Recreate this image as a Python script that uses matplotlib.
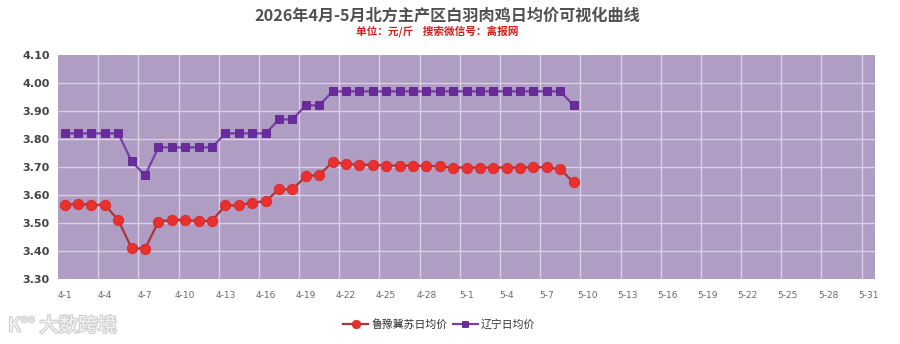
import matplotlib
matplotlib.use("Agg")
import matplotlib.pyplot as plt
import matplotlib.patheffects as pe
from matplotlib.ticker import FixedLocator

plt.rcParams['font.family'] = ['Noto Sans CJK SC', 'DejaVu Sans']

# ---- data ----
dates = [f"4-{d}" for d in range(1, 31)] + [f"5-{d}" for d in range(1, 32)]
tick_labels = ["4-1", "4-4", "4-7", "4-10", "4-13", "4-16", "4-19", "4-22", "4-25",
               "4-28", "5-1", "5-4", "5-7", "5-10", "5-13", "5-16", "5-19", "5-22",
               "5-25", "5-28", "5-31"]
lu_yu_ji_su = [3.565, 3.568, 3.565, 3.565, 3.51, 3.41, 3.408, 3.505, 3.511, 3.511,
               3.507, 3.508, 3.563, 3.563, 3.573, 3.578, 3.62, 3.62, 3.667, 3.672,
               3.717, 3.711, 3.708, 3.708, 3.705, 3.705, 3.705, 3.704, 3.702, 3.698,
               3.698, 3.698, 3.698, 3.698, 3.698, 3.699, 3.699, 3.692, 3.645]
liaoning = [3.82, 3.82, 3.82, 3.82, 3.82, 3.72, 3.67, 3.77, 3.77, 3.77,
            3.77, 3.77, 3.82, 3.82, 3.82, 3.82, 3.87, 3.87, 3.92, 3.92,
            3.97, 3.97, 3.97, 3.97, 3.97, 3.97, 3.97, 3.97, 3.97, 3.97,
            3.97, 3.97, 3.97, 3.97, 3.97, 3.97, 3.97, 3.97, 3.92]
series_names = ["鲁豫冀苏日均价", "辽宁日均价"]
title = "2026年4月-5月北方主产区白羽肉鸡日均价可视化曲线"
subtitle = "单位：元/斤    搜索微信号：禽报网"
y_ticks = [3.30, 3.40, 3.50, 3.60, 3.70, 3.80, 3.90, 4.00, 4.10]

fig = plt.figure(figsize=(9, 3.44), dpi=100)
fig.patch.set_facecolor("white")
ax = fig.add_axes([58 / 900, 1 - 279 / 344, (875 - 58) / 900, (279 - 55) / 344])
ax.set_facecolor("#b09dc4")

x_idx = list(range(len(dates)))
ax.set_xlim(-0.5, len(dates) - 0.5)
ax.set_ylim(3.30, 4.10)

# gridlines
for k in range(3, len(dates) + 1, 3):
    ax.axvline(k - 0.5, color="#d9cfe6", lw=1.0, zorder=1)
for yv in y_ticks[1:-1]:
    ax.axhline(yv, color="#d9cfe6", lw=1.0, zorder=1)

ax.plot(x_idx[:len(lu_yu_ji_su)], lu_yu_ji_su, color="#a9343a", lw=1.6,
        marker="o", markersize=7.5, markerfacecolor="#e8302e",
        markeredgecolor="#d82a2a", markeredgewidth=0.6, zorder=3,
        label=series_names[0])
ax.plot(x_idx[:len(liaoning)], liaoning, color="#7440a8", lw=1.6,
        marker="s", markersize=5.8, markerfacecolor="#6a2c9c",
        markeredgecolor="#5e2590", markeredgewidth=0.6, zorder=3,
        label=series_names[1])

for s in ax.spines.values():
    s.set_visible(False)

ax.yaxis.set_major_locator(FixedLocator(y_ticks))
ax.set_yticklabels([f"{v:.2f}" for v in y_ticks], fontsize=8, fontweight="bold",
                   color="#444444", family=["DejaVu Sans"])
tick_pos = [dates.index(t) for t in tick_labels]
ax.xaxis.set_major_locator(FixedLocator(tick_pos))
ax.set_xticklabels(tick_labels, fontsize=6.5, color="#666666", family=["DejaVu Sans"])
ax.tick_params(axis="both", length=0)
ax.tick_params(axis="x", pad=9)
ax.tick_params(axis="y", pad=6)

fig.text(0.497, 1 - 16 / 344, title, ha="center", va="center", fontsize=11.6,
         fontweight="bold", color="#505050")
fig.text(0.486, 1 - 31 / 344, subtitle, ha="center", va="center", fontsize=7.7,
         fontweight="bold", color="#d0201c")

leg = fig.legend(loc="center", bbox_to_anchor=(0.488, 1 - 324 / 344), ncol=2,
                 frameon=False, fontsize=7.8, handlelength=2.3, columnspacing=0.5,
                 handletextpad=0.3, markerscale=0.8)
for t in leg.get_texts():
    t.set_color("#333333")

fig.text(8 / 900, 1 - 326 / 344, "K°° 大数跨境", ha="left", va="center",
         fontsize=14, color="#f4f4f4",
         path_effects=[pe.withStroke(linewidth=1.6, foreground="#cfcfcf")])

fig.savefig("out.png", dpi=100, facecolor="white")
